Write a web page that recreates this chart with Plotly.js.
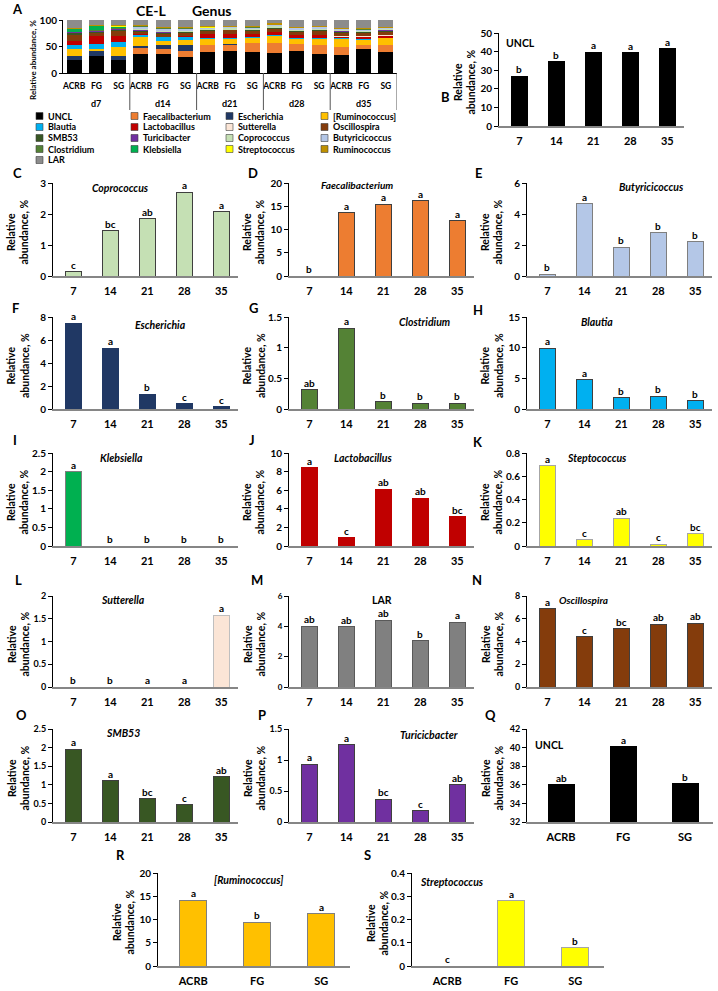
<!DOCTYPE html>
<html>
<head>
<meta charset="utf-8">
<script src="https://cdn.plot.ly/plotly-3.0.1.min.js"></script>
<style>
  html, body { margin: 0; padding: 0; background: #fff; }
  #chart { width: 718px; height: 991px; }
</style>
</head>
<body>
<div id="chart"></div>
<script>
// ---------- data ----------
const days = ['7', '14', '21', '28', '35'];
const groups = ['ACRB', 'FG', 'SG'];
const sampleDays = ['d7', 'd14', 'd21', 'd28', 'd35'];

// genus composition per sample (d7 ACRB, d7 FG, d7 SG, d14 ACRB, ... d35 SG)
const genera = ['UNCL', 'Faecalibacterium', 'Escherichia', '[Ruminococcus]',
  'Blautia', 'Lactobacillus', 'Sutterella', 'Oscillospira',
  'SMB53', 'Turicibacter', 'Coprococcus', 'Butyricicoccus',
  'Clostridium', 'Klebsiella', 'Streptococcus', 'Ruminococcus', 'LAR'];
const generaColors = ['#000000', '#ED7D31', '#203864', '#FFC000',
  '#00B0F0', '#C00000', '#FBE5D6', '#843C0C',
  '#385723', '#7030A0', '#C5E0B4', '#B4C7E7',
  '#548235', '#00B050', '#FFFF00', '#BF9000', '#8C8C8C'];

const compUNCL  = [25, 32, 25, 35, 35, 30, 40, 42, 39, 37, 42, 35, 34, 45, 40];
const compFaec  = [0, 0, 0, 13, 11, 11, 12, 11, 17, 20, 12, 17, 15, 8, 12];
const compEsch  = [7.5, 9, 8, 3, 6, 12, 1.5, 1.5, 1, 0.5, 0.5, 0.5, 0.2, 0.2, 0.2];
const compRumB  = [13, 5, 17, 17, 9, 9, 10, 10, 9, 12, 10, 11, 15, 10, 13];
const compBlaut = [7, 9, 9, 4, 6, 5, 2, 2, 2, 2, 2, 2, 1.5, 1.5, 1];
const compLacto = [7.5, 14, 11, 1, 1, 2, 8, 8, 6, 6, 5, 7, 3, 3, 4];
const compSutt  = [0, 0, 0, 0, 0, 0, 0, 0, 0, 0, 0, 0, 1.5, 1.5, 1.7];
const compOscil = [12, 7, 9, 5, 6, 6, 6, 6, 6, 6, 6, 7, 6, 6, 6];
const compSMB   = [3, 2, 3, 1.5, 1.5, 1.5, 1, 1, 1, 1, 1, 1, 1.5, 1.5, 1.5];
const compTuric = [1.5, 1.5, 1, 1.5, 1.5, 1.5, 0.5, 0.5, 0.5, 0.3, 0.3, 0.3, 1, 1, 1];
const compCopro = [0.2, 0.2, 0.2, 1.5, 1.5, 1.5, 2, 2, 2, 3, 3, 3, 2, 2, 2];
const compButyr = [0.2, 0.2, 0.2, 5, 5, 4, 2, 2, 2, 3, 3, 3, 2, 2, 2];
const compClost = [1, 1, 1, 1.5, 1.5, 1.5, 0.5, 0.5, 0.5, 0.5, 0.5, 0.5, 0.5, 0.5, 0.5];
const compKlebs = [5, 7, 3, 0, 0, 0, 0, 0, 0, 0, 0, 0, 0, 0, 0];
const compStrep = [1, 1, 1, 0.2, 0.2, 0.2, 0.5, 0.5, 0.5, 0.2, 0.2, 0.2, 0.3, 0.3, 0.3];
const compRumin = [1.5, 1.5, 1.5, 2, 2, 2, 2, 2, 2, 2, 2, 2, 2, 2, 2];
const compLAR   = [14.6, 9.6, 10.1, 8.8, 12.8, 12.8, 12, 11, 11.5, 6.5, 12.5, 10.5, 14.5, 15.5, 12.8];
const composition = [compUNCL, compFaec, compEsch, compRumB, compBlaut, compLacto, compSutt,
  compOscil, compSMB, compTuric, compCopro, compButyr, compClost, compKlebs, compStrep,
  compRumin, compLAR];

// day means with significance letters
const unclDay = [26.8, 34.5, 39.6, 39.3, 41.6];          const unclDayLet = ['b', 'b', 'a', 'a', 'a'];
const coproDay = [0.14, 1.46, 1.85, 2.7, 2.08];          const coproLet = ['c', 'bc', 'ab', 'a', 'a'];
const faecDay = [0, 13.6, 15.4, 16.2, 11.9];             const faecLet = ['b', 'a', 'a', 'a', 'a'];
const butyrDay = [0.12, 4.65, 1.87, 2.78, 2.2];          const butyrLet = ['b', 'a', 'b', 'b', 'b'];
const eschDay = [7.45, 5.3, 1.3, 0.45, 0.18];            const eschLet = ['a', 'a', 'b', 'c', 'c'];
const clostDay = [0.31, 1.32, 0.12, 0.09, 0.09];         const clostLet = ['ab', 'a', 'b', 'b', 'b'];
const blautDay = [9.9, 4.8, 1.85, 2.05, 1.35];           const blautLet = ['a', 'a', 'b', 'b', 'b'];
const klebsDay = [2.0, 0, 0, 0, 0];                      const klebsLet = ['a', 'b', 'b', 'b', 'b'];
const lactoDay = [8.4, 0.9, 6.1, 5.15, 3.15];            const lactoLet = ['a', 'c', 'ab', 'ab', 'bc'];
const strepDay = [0.69, 0.055, 0.24, 0.015, 0.105];      const strepLet = ['a', 'c', 'ab', 'c', 'bc'];
const suttDay = [0, 0, 0, 0, 1.58];                      const suttLet = ['b', 'b', 'a', 'a', 'a'];
const larDay = [4.02, 3.97, 4.4, 3.05, 4.27];            const larLet = ['ab', 'ab', 'ab', 'b', 'a'];
const oscilDay = [6.9, 4.4, 5.12, 5.52, 5.62];           const oscilLet = ['a', 'c', 'bc', 'ab', 'ab'];
const smbDay = [1.96, 1.11, 0.62, 0.47, 1.22];           const smbLet = ['a', 'a', 'bc', 'c', 'ab'];
const turicDay = [0.93, 1.25, 0.37, 0.18, 0.6];          const turicLet = ['a', 'a', 'bc', 'c', 'ab'];

// group means with significance letters
const unclGroup = [36.0, 40.1, 36.1];                    const unclGroupLet = ['ab', 'a', 'b'];
const rumBGroup = [14.1, 9.4, 11.2];                     const rumBGroupLet = ['a', 'b', 'a'];
const strepGroup = [0, 0.28, 0.078];                     const strepGroupLet = ['c', 'a', 'b'];

// ---------- layout helpers ----------
const W = 718, H = 991;
const FONT = 'Lato, "Open Sans", "DejaVu Sans", sans-serif';
const px = x => x / W;
const py = y => 1 - y / H;

const data = [];
const layout = {
  width: W, height: H,
  margin: { l: 0, r: 0, t: 0, b: 0 },
  paper_bgcolor: '#ffffff',
  plot_bgcolor: 'rgba(0,0,0,0)',
  showlegend: false,
  barmode: 'stack',
  font: { family: FONT, size: 10, color: '#000', weight: 'bold' },
  annotations: [],
  shapes: []
};

function note(text, x, y, opts) {
  layout.annotations.push(Object.assign({
    text: text, x: px(x), y: py(y), xref: 'paper', yref: 'paper',
    showarrow: false, xanchor: 'center', yanchor: 'middle',
    font: { family: FONT, size: 10, color: '#000', weight: 'bold' }
  }, opts || {}));
}

function yTitle(x, y, size) {
  note('Relative<br>abundance, %', x, y, { textangle: -90, font: { family: FONT, size: size || 10.5, color: '#000', weight: 'bold' } });
}

// ---------- panel A : stacked composition ----------
// samples sit at positions 0..14; group names on the axis, day labels below
const sampleIdx = [], sampleGroup = [];
sampleDays.forEach((d, di) => groups.forEach((g, gi) => {
  sampleIdx.push(di * groups.length + gi);
  sampleGroup.push(g);
}));

genera.forEach((name, i) => {
  data.push({
    type: 'bar', name: name, x: sampleIdx, y: composition[i],
    xaxis: 'x', yaxis: 'y', width: 0.67,
    marker: { color: generaColors[i], line: { width: 0 } },
    hoverinfo: 'name+y'
  });
});

layout.xaxis = {
  domain: [px(63), px(397)], anchor: 'y', type: 'linear',
  range: [-0.5, sampleIdx.length - 0.5],
  tickvals: sampleIdx, ticktext: sampleGroup,
  showline: true, linecolor: '#000', linewidth: 1,
  ticks: 'outside', ticklen: 5, tickcolor: 'rgba(0,0,0,0)', tickangle: 0,
  tickfont: { size: 8.5, family: FONT, weight: 'bold' }, showgrid: false, zeroline: false
};
layout.yaxis = {
  domain: [py(73), py(20)], anchor: 'x', range: [0, 100], tickvals: [0, 50, 100],
  showline: true, linecolor: '#000', linewidth: 1, ticks: 'outside', ticklen: 3,
  tickcolor: '#000', showgrid: false, zeroline: false,
  tickfont: { size: 10, family: FONT, weight: 'bold' }
};
// day labels under each group, with a divider after every group
sampleDays.forEach((d, di) => {
  const n = groups.length;
  layout.annotations.push({
    text: d, x: di * n + (n - 1) / 2, y: py(103), xref: 'x', yref: 'paper',
    showarrow: false, xanchor: 'center', yanchor: 'middle',
    font: { family: FONT, size: 9, color: '#000', weight: 'bold' }
  });
  const edge = di * n + n - 0.5;
  layout.shapes.push({
    type: 'line', xref: 'x', yref: 'paper', x0: edge, x1: edge,
    y0: py(110), y1: py(73), line: { color: '#555', width: 1 }
  });
});
note('A', 17, 9, { font: { family: FONT, size: 13, color: '#000', weight: 'bold' } });
note('CE-L', 151, 10, { font: { family: FONT, size: 14, color: '#000', weight: 'bold' } });
note('Genus', 212, 10, { font: { family: FONT, size: 14, color: '#000', weight: 'bold' } });
note('Relative abundance, %', 33, 60, { textangle: -90, font: { family: FONT, size: 8, color: '#000', weight: 'bold' } });

// legend for panel A, four columns
const legCols = [36, 131, 226, 321];
const legRows = [116, 127, 138, 149, 160];
genera.forEach((name, i) => {
  const cx = legCols[i % 4], cy = legRows[Math.floor(i / 4)];
  layout.shapes.push({
    type: 'rect', xref: 'paper', yref: 'paper',
    x0: px(cx), x1: px(cx + 7), y0: py(cy + 3.5), y1: py(cy - 3.5),
    fillcolor: generaColors[i], line: { color: '#404040', width: 0.6 }
  });
  note(name, cx + 10, cy, { xanchor: 'left', font: { family: FONT, size: 9, color: '#000', weight: 'bold' } });
});

// ---------- single genus panels ----------
const col1 = [53, 238], col2 = [289, 474], col3 = [527, 712];
const row1 = [183, 276], row2 = [317, 409], row3 = [453, 546], row4 = [596, 687], row5 = [729, 822];

const panels = [
  { id: 'B', cats: days, vals: unclDay, lets: unclDayLet, color: '#000000', edge: '#000000', xs: [499, 684], ys: [33, 126], yr: [0, 50], dt: 10, title: 'UNCL', tpos: [520, 43], italic: false, lpos: [446, 97] },
  { id: 'C', cats: days, vals: coproDay, lets: coproLet, color: '#C5E0B4', edge: '#3F3F3F', xs: col1, ys: row1, yr: [0, 3], dt: 1, title: 'Coprococcus', tpos: [120, 188], lpos: [17, 173] },
  { id: 'D', cats: days, vals: faecDay, lets: faecLet, color: '#ED7D31', edge: '#3F3F3F', xs: col2, ys: row1, yr: [0, 20], dt: 5, title: 'Faecalibacterium', tpos: [357, 185], lpos: [253, 173], tfs: 10 },
  { id: 'E', cats: days, vals: butyrDay, lets: butyrLet, color: '#B4C7E7', edge: '#7F7F7F', xs: col3, ys: row1, yr: [0, 6], dt: 2, title: 'Butyricicoccus', tpos: [651, 187], lpos: [478, 173] },
  { id: 'F', cats: days, vals: eschDay, lets: eschLet, color: '#203864', edge: '#203864', xs: col1, ys: row2, yr: [0, 8], dt: 2, title: 'Escherichia', tpos: [160, 325], lpos: [15, 308] },
  { id: 'G', cats: days, vals: clostDay, lets: clostLet, color: '#548235', edge: '#3F3F3F', xs: col2, ys: row2, yr: [0, 1.5], dt: 0.5, title: 'Clostridium', tpos: [424, 322], lpos: [253, 308] },
  { id: 'H', cats: days, vals: blautDay, lets: blautLet, color: '#00B0F0', edge: '#3F3F3F', xs: col3, ys: row2, yr: [0, 15], dt: 5, title: 'Blautia', tpos: [597, 322], lpos: [478, 310] },
  { id: 'I', cats: days, vals: klebsDay, lets: klebsLet, color: '#00B050', edge: '#7F7F7F', xs: col1, ys: row3, yr: [0, 2.5], dt: 0.5, title: 'Klebsiella', tpos: [121, 458], lpos: [15, 440] },
  { id: 'J', cats: days, vals: lactoDay, lets: lactoLet, color: '#C00000', edge: '#C00000', xs: col2, ys: row3, yr: [0, 10], dt: 2, title: 'Lactobacillus', tpos: [363, 458], lpos: [252, 440] },
  { id: 'K', cats: days, vals: strepDay, lets: strepLet, color: '#FFFF00', edge: '#A6A6A6', xs: col3, ys: row3, yr: [0, 0.8], dt: 0.2, title: 'Steptococcus', tpos: [597, 458], lpos: [478, 442] },
  { id: 'L', cats: days, vals: suttDay, lets: suttLet, color: '#FBE5D6', edge: '#BFBFBF', xs: col1, ys: row4, yr: [0, 2], dt: 0.5, title: 'Sutterella', tpos: [123, 600], lpos: [18, 580], tsize: 9 },
  { id: 'M', cats: days, vals: larDay, lets: larLet, color: '#808080', edge: '#595959', xs: col2, ys: row4, yr: [0, 6], dt: 2, title: 'LAR', tpos: [382, 600], italic: false, lpos: [257, 580], tsize: 8 },
  { id: 'N', cats: days, vals: oscilDay, lets: oscilLet, color: '#843C0C', edge: '#3F3F3F', xs: col3, ys: row4, yr: [0, 8], dt: 2, title: 'Oscillospira', tpos: [583, 600], lpos: [477, 580], tsize: 9, tfs: 10 },
  { id: 'O', cats: days, vals: smbDay, lets: smbLet, color: '#385723', edge: '#3F3F3F', xs: col1, ys: row5, yr: [0, 2.5], dt: 0.5, title: 'SMB53', tpos: [123, 733], lpos: [21, 715], tsize: 9 },
  { id: 'P', cats: days, vals: turicDay, lets: turicLet, color: '#7030A0', edge: '#3F3F3F', xs: col2, ys: row5, yr: [0, 1.5], dt: 0.5, title: 'Turicicbacter', tpos: [429, 735], lpos: [262, 715], tsize: 9 },
  { id: 'Q', cats: groups, vals: unclGroup, lets: unclGroupLet, color: '#000000', edge: '#000000', xs: [527, 713], ys: row5, yr: [32, 42], dt: 2, title: 'UNCL', tpos: [549, 745], italic: false, lpos: [490, 715], tsize: 9 },
  { id: 'R', cats: groups, vals: rumBGroup, lets: rumBGroupLet, color: '#FFC000', edge: '#7F7F7F', xs: [158, 350], ys: [873, 966], yr: [0, 20], dt: 5, title: '[Ruminococcus]', tpos: [248, 880], lpos: [120, 855] },
  { id: 'S', cats: groups, vals: strepGroup, lets: strepGroupLet, color: '#FFFF00', edge: '#A6A6A6', xs: [412, 604], ys: [873, 966], yr: [0, 0.4], dt: 0.1, title: 'Streptococcus', tpos: [452, 882], lpos: [367, 855] }
];

panels.forEach((p, k) => {
  const n = k + 2;
  const xa = 'x' + n, ya = 'y' + n;
  const nc = p.cats.length;
  const barW = nc === 5 ? 0.43 : 0.42;
  data.push({
    type: 'bar', x: p.cats, y: p.vals, xaxis: xa, yaxis: ya, width: barW,
    marker: { color: p.color, line: { color: p.edge, width: 1 } },
    hoverinfo: 'x+y', cliponaxis: true
  });
  layout['xaxis' + n] = {
    domain: [px(p.xs[0]), px(p.xs[1])], anchor: ya, type: 'category',
    range: [-0.55, nc - 0.55],
    showline: true, linecolor: '#868686', linewidth: 1.5,
    ticks: 'outside', ticklen: 4, tickcolor: 'rgba(0,0,0,0)',
    showgrid: false, zeroline: false,
    tickfont: { size: 11, family: FONT, weight: 'bold' }
  };
  layout['yaxis' + n] = {
    domain: [py(p.ys[1]), py(p.ys[0])], anchor: xa,
    range: p.yr, tick0: p.yr[0], dtick: p.dt,
    showline: true, linecolor: '#000', linewidth: 1,
    ticks: 'outside', ticklen: 4, tickcolor: '#000',
    showgrid: false, zeroline: false,
    tickfont: { size: p.tsize || 10, family: FONT, weight: 'bold' }
  };
  // significance letters above each bar (x given as category index)
  p.cats.forEach((c, i) => {
    layout.annotations.push({
      text: p.lets[i], x: i, y: p.vals[i], xref: xa, yref: ya,
      showarrow: false, xanchor: 'center', yanchor: 'bottom', yshift: -1,
      font: { family: FONT, size: 10, color: '#000', weight: 'bold' }
    });
  });
  const it = p.italic === false ? p.title : '<i>' + p.title + '</i>';
  note(it, p.tpos[0], p.tpos[1], { font: { family: FONT, size: p.tfs || 10.5, color: '#000', weight: 'bold' } });
  note(p.id, p.lpos[0], p.lpos[1], { font: { family: FONT, size: 13, color: '#000', weight: 'bold' } });
  yTitle(p.xs[0] - 35, (p.ys[0] + p.ys[1]) / 2 + 3);
});

Plotly.newPlot('chart', data, layout, { displayModeBar: false, staticPlot: true });
</script>
</body>
</html>
